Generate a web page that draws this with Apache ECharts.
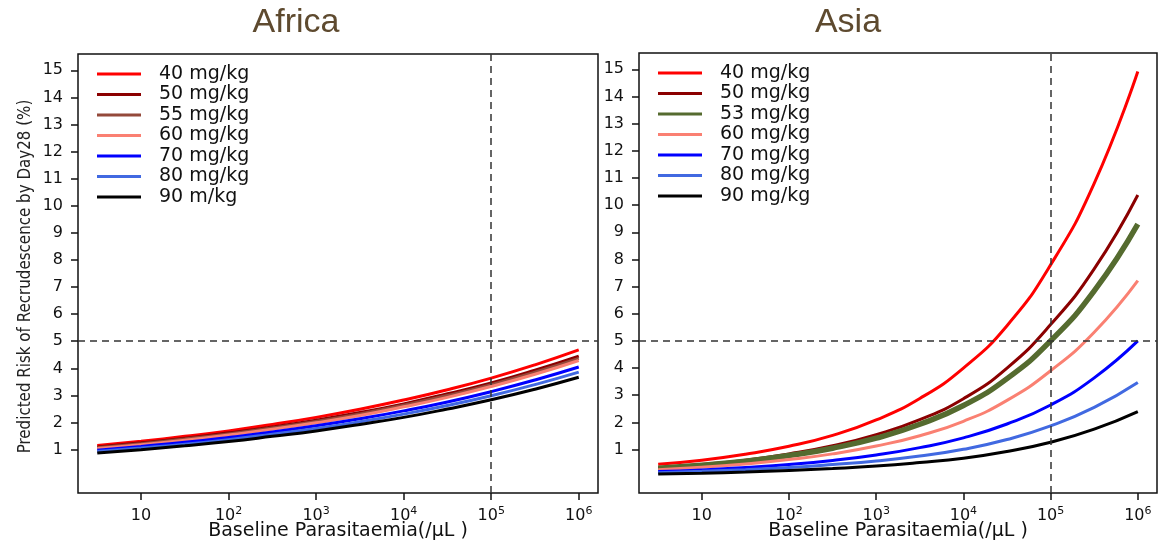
<!DOCTYPE html>
<html><head><meta charset="utf-8">
<script src="https://cdn.jsdelivr.net/npm/echarts@6/dist/echarts.min.js"></script>
<style>html,body{margin:0;padding:0;background:#fff}#c{width:1167px;height:540px}</style>
</head><body><div id="c"></div>
<script>
// log10 of baseline parasitaemia (/uL)
const logParasitaemia = [0.5, 1, 1.5, 2, 2.5, 3, 3.5, 4, 4.5, 5, 5.5, 6];
const xTickExponents = [1, 2, 3, 4, 5, 6];
const yTicks = [1, 2, 3, 4, 5, 6, 7, 8, 9, 10, 11, 12, 13, 14, 15];
const riskThreshold = 5;
const parasitaemiaThreshold = 5; // 10^5

const africaDoses = ['40 mg/kg', '50 mg/kg', '55 mg/kg', '60 mg/kg', '70 mg/kg', '80 mg/kg', '90 m/kg'];
const asiaDoses = ['40 mg/kg', '50 mg/kg', '53 mg/kg', '60 mg/kg', '70 mg/kg', '80 mg/kg', '90 mg/kg'];

// Africa predicted risk (%)
const africa40 = [1.15, 1.31, 1.49, 1.69, 1.93, 2.19, 2.49, 2.83, 3.21, 3.64, 4.13, 4.68];
const africa50 = [1.10, 1.25, 1.42, 1.62, 1.84, 2.09, 2.37, 2.69, 3.06, 3.46, 3.93, 4.45];
const africa55 = [1.07, 1.22, 1.39, 1.58, 1.80, 2.04, 2.32, 2.64, 3.00, 3.40, 3.86, 4.37];
const africa60 = [1.04, 1.18, 1.35, 1.54, 1.75, 1.99, 2.26, 2.58, 2.93, 3.33, 3.78, 4.29];
const africa70 = [0.98, 1.12, 1.27, 1.45, 1.65, 1.88, 2.14, 2.43, 2.76, 3.14, 3.57, 4.05];
const africa80 = [0.93, 1.06, 1.20, 1.37, 1.57, 1.78, 2.03, 2.31, 2.63, 2.99, 3.40, 3.86];
const africa90 = [0.88, 1.00, 1.14, 1.30, 1.49, 1.69, 1.93, 2.19, 2.50, 2.84, 3.23, 3.67];

// Asia predicted risk (%)
const asia40 = [0.46, 0.61, 0.83, 1.12, 1.52, 2.09, 2.88, 4.00, 5.56, 7.80, 10.80, 14.92];
const asia50 = [0.33, 0.45, 0.61, 0.84, 1.14, 1.55, 2.10, 2.87, 4.00, 5.60, 7.65, 10.37];
const asia53 = [0.31, 0.42, 0.57, 0.78, 1.05, 1.42, 1.93, 2.62, 3.61, 5.00, 6.84, 9.30];
const asia60 = [0.26, 0.35, 0.47, 0.63, 0.84, 1.13, 1.51, 2.04, 2.81, 3.90, 5.32, 7.22];
const asia70 = [0.19, 0.25, 0.34, 0.45, 0.60, 0.80, 1.07, 1.43, 1.94, 2.64, 3.64, 5.00];
const asia80 = [0.15, 0.20, 0.26, 0.34, 0.45, 0.58, 0.76, 1.01, 1.37, 1.87, 2.55, 3.47];
const asia90 = [0.10, 0.13, 0.17, 0.23, 0.30, 0.39, 0.52, 0.68, 0.93, 1.27, 1.75, 2.40];

const africaSeries = [africa40, africa50, africa55, africa60, africa70, africa80, africa90];
const asiaSeries = [asia40, asia50, asia53, asia60, asia70, asia80, asia90];
const africaColors = ['#FF0000', '#8B0000', '#94493A', '#FA8072', '#0000FF', '#4169E1', '#000000'];
const asiaColors = ['#FF0000', '#8B0000', '#556B2F', '#FA8072', '#0000FF', '#4169E1', '#000000'];
const asiaWidths = [3, 3, 5.5, 3, 3, 3, 3];

const tickFont = 'DejaVu Sans';
const boxColor = '#111';

function xAxisFor(gridIndex) {
  return {
    type: 'value', gridIndex, min: 0.28, max: 6.22,
    name: 'Baseline Parasitaemia(/\u03bcL )', nameLocation: 'middle', nameGap: 29, nameMoveOverlap: false,
    nameTextStyle: { fontFamily: tickFont, fontSize: 19, color: '#111' },
    axisLine: { show: false, onZero: false },
    splitLine: { show: false },
    axisTick: { show: true, customValues: xTickExponents, length: 7, lineStyle: { color: boxColor, width: 1.5 } },
    axisLabel: {
      customValues: xTickExponents, margin: 13, color: '#111',
      formatter: v => v === 1 ? '{b|10}' : '{b|10}{s|' + v + '}',
      rich: {
        b: { fontFamily: tickFont, fontSize: 16, lineHeight: 20, color: '#111' },
        s: { fontFamily: tickFont, fontSize: 11, lineHeight: 11, verticalAlign: 'top', color: '#111' }
      }
    }
  };
}
function yAxisFor(gridIndex, withName) {
  const ax = {
    type: 'value', gridIndex, min: -0.6, max: 15.6,
    axisLine: { show: false, onZero: false },
    splitLine: { show: false },
    axisTick: { show: true, customValues: yTicks, length: 7, lineStyle: { color: boxColor, width: 1.5 } },
    axisLabel: { customValues: yTicks, margin: 15, fontFamily: tickFont, fontSize: 16, color: '#111' }
  };
  if (withName) {
    ax.name = 'Predicted Risk of Recrudescence by Day28 (%)';
    ax.nameLocation = 'middle';
    ax.nameGap = 44;
    ax.nameRotate = 90;
    ax.nameTextStyle = { fontFamily: "'Liberation Sans Narrow', 'DejaVu Sans Condensed', sans-serif", fontSize: 16.8, color: '#222', padding: [0, 6, 0, 0] };
  }
  return ax;
}
function refLines() {
  return {
    silent: true, symbol: 'none', label: { show: false },
    lineStyle: { type: [7, 5], color: '#333', width: 1.5 },
    data: [{ yAxis: riskThreshold }, { xAxis: parasitaemiaThreshold }]
  };
}
function buildSeries(names, arrays, colors, widths, idx) {
  return arrays.map((arr, i) => {
    const s = {
      type: 'line', name: names[i], xAxisIndex: idx, yAxisIndex: idx,
      data: logParasitaemia.map((x, k) => [x, arr[k]]),
      smooth: true, symbol: 'none', showSymbol: false,
      lineStyle: { color: colors[i], width: widths ? widths[i] : 3 },
      itemStyle: { color: colors[i] },
      z: 3
    };
    if (i === 0) s.markLine = refLines();
    return s;
  });
}
function legendFor(names, left, top) {
  return {
    data: names, orient: 'vertical', left, top, padding: 0,
    icon: 'rect', itemWidth: 44, itemHeight: 3, itemGap: 0.5,
    textStyle: { fontFamily: tickFont, fontSize: 19, lineHeight: 20, color: '#111', padding: [0, 0, 0, 13] },
    selectedMode: false
  };
}

const chart = echarts.init(document.getElementById('c'), null, { renderer: 'canvas' });
chart.setOption({
  animation: false,
  backgroundColor: '#fff',
  title: [
    { text: 'Africa', left: 296, top: 6, textAlign: 'center', padding: 0,
      textStyle: { fontFamily: 'Liberation Sans', fontSize: 34, fontWeight: 'normal', color: '#5E4A2F' } },
    { text: 'Asia', left: 848, top: 6, textAlign: 'center', padding: 0,
      textStyle: { fontFamily: 'Liberation Sans', fontSize: 34, fontWeight: 'normal', color: '#5E4A2F' } }
  ],
  legend: [legendFor(africaDoses, 97, 64), legendFor(asiaDoses, 658, 63)],
  grid: [
    { left: 78, right: 569, top: 54, bottom: 47, show: true, outerBoundsMode: 'none', containLabel: false,
      borderColor: boxColor, borderWidth: 1.5, backgroundColor: 'transparent' },
    { left: 639, right: 10, top: 53, bottom: 47, show: true, outerBoundsMode: 'none', containLabel: false,
      borderColor: boxColor, borderWidth: 1.5, backgroundColor: 'transparent' }
  ],
  xAxis: [xAxisFor(0), xAxisFor(1)],
  yAxis: [yAxisFor(0, true), yAxisFor(1, false)],
  series: [
    ...buildSeries(africaDoses, africaSeries, africaColors, null, 0),
    ...buildSeries(asiaDoses, asiaSeries, asiaColors, asiaWidths, 1)
  ]
});
</script></body></html>
